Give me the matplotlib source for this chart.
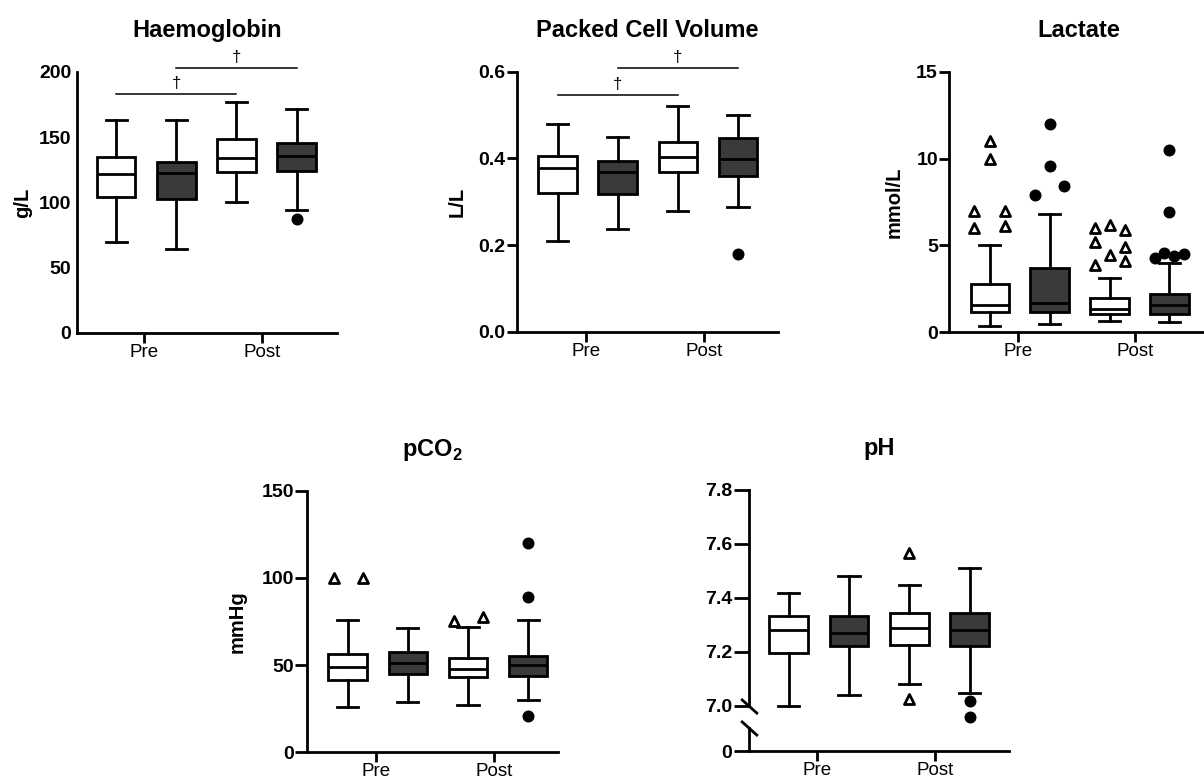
import matplotlib
matplotlib.use("Agg")
import matplotlib.pyplot as plt

plt.rcParams['font.family'] = ['Liberation Sans', 'DejaVu Sans']
plt.rcParams['mathtext.fontset'] = 'custom'
plt.rcParams['mathtext.rm'] = 'Liberation Sans'
plt.rcParams['mathtext.bf'] = 'Liberation Sans:bold'

W, H = 1204, 782

groups = ['Pre', 'Post']
# box order: Pre (open), Pre (filled), Post (open), Post (filled)
# each box: whisker low, Q1, median, Q3, whisker high
hb_box = [(70, 104.5, 122, 134.5, 163), (64.5, 103, 122.5, 131, 163),
          (100.5, 123, 134, 148.5, 177), (94.5, 124.5, 136, 145.5, 171.5)]
hb_out = [[], [], [], [87]]

pcv_box = [(0.21, 0.32, 0.378, 0.406, 0.48), (0.238, 0.318, 0.368, 0.395, 0.45),
           (0.278, 0.368, 0.403, 0.437, 0.52), (0.288, 0.36, 0.398, 0.446, 0.50)]
pcv_out = [[], [], [], [0.18]]

lac_box = [(0.38, 1.15, 1.6, 2.8, 5.0), (0.5, 1.15, 1.67, 3.72, 6.8),
           (0.65, 1.05, 1.35, 2.0, 3.1), (0.58, 1.04, 1.6, 2.2, 4.0)]
lac_out = [[11.0, 10.0, 7.0, 6.0, 7.0, 6.1],
           [12.0, 9.6, 7.9, 8.4],
           [6.0, 6.2, 5.9, 5.2, 4.9, 4.45, 3.9, 4.1],
           [10.5, 6.9, 4.3, 4.55, 4.4, 4.5]]

co2_box = [(26, 41.5, 49, 56.5, 76), (29, 44.7, 51, 57.3, 71),
           (27, 43.4, 47.6, 54.3, 72), (30, 44, 50, 55.4, 76)]
co2_out = [[100, 100], [], [75.5, 77.4], [120, 89, 21]]

ph_box = [(7.0, 7.195, 7.28, 7.335, 7.42), (7.04, 7.222, 7.27, 7.335, 7.48),
          (7.08, 7.225, 7.29, 7.345, 7.45), (7.05, 7.222, 7.28, 7.345, 7.51)]
ph_out = [[], [], [7.565, 7.025], [7.02, 6.96]]

# horizontal spread of outlier symbols (box units)
lac_dx = [[0, 0, -0.26, -0.26, 0.26, 0.26],
          [0, 0, -0.24, 0.24],
          [-0.25, 0, 0.25, -0.25, 0.25, 0, -0.25, 0.25],
          [0, 0, -0.24, -0.09, 0.075, 0.24]]
co2_dx = [[-0.23, 0.25], [], [-0.23, 0.25], [0, 0, 0]]

pos = [0, 1, 2, 3]
tick_pos = [0.47, 2.43]
fills = ['white', '#3a3a3a']
LW = 2


def px_axes(fig, left, bottom, width, height):
    return fig.add_axes([left / W, 1 - bottom / H, width / W, height / H])


def style(ax, xlim, ylen=7, ypad=1.2):
    for s in ['top', 'right']:
        ax.spines[s].set_visible(False)
    for s in ['left', 'bottom']:
        ax.spines[s].set_linewidth(LW)
    ax.set_xlim(*xlim)
    ax.set_xticks(tick_pos, groups)
    ax.tick_params(axis='x', length=7, width=LW, pad=1, labelsize=13.5)
    ax.tick_params(axis='y', length=ylen, width=LW, pad=ypad, labelsize=14)
    for t in ax.get_yticklabels():
        t.set_fontweight('bold')


def draw_boxes(ax, stats, outliers, dx=None):
    bx = [dict(whislo=s[0], q1=s[1], med=s[2], q3=s[3], whishi=s[4], fliers=[])
          for s in stats]
    art = ax.bxp(bx, positions=pos, widths=0.64, capwidths=0.35,
                 patch_artist=True, showfliers=False, manage_ticks=False,
                 boxprops=dict(linewidth=LW, edgecolor='black'),
                 medianprops=dict(color='black', linewidth=LW),
                 whiskerprops=dict(linewidth=LW),
                 capprops=dict(linewidth=LW))
    for i, b in enumerate(art['boxes']):
        b.set_facecolor(fills[i % 2])
    for k in art:
        for a in art[k]:
            a.set_clip_on(False)
    for i, vals in enumerate(outliers):
        if not vals:
            continue
        off = dx[i] if dx is not None else [0] * len(vals)
        xs = [pos[i] + o for o in off]
        if i % 2 == 0:
            ax.scatter(xs, vals, marker='^', s=52, facecolor='white',
                       edgecolor='black', linewidth=2, zorder=3, clip_on=False)
        else:
            ax.scatter(xs, vals, marker='o', s=58, color='black', zorder=3,
                       clip_on=False)


def sig_bars(ax, pairs, heights):
    for (a, b), y in zip(pairs, heights):
        ax.plot([pos[a], pos[b]], [y, y], color='black', lw=1.1, clip_on=False)
        ax.annotate('\u2020', ((pos[a] + pos[b]) / 2, y), xytext=(0, 7.5),
                    textcoords='offset points', ha='center', va='center',
                    fontsize=12, annotation_clip=False)


def title(ax, text):
    ax.set_title(text, fontsize=17, fontweight='bold', pad=25)


fig = plt.figure(figsize=(W / 100, H / 100), dpi=100)

# Haemoglobin
ax1 = px_axes(fig, 77, 333, 260, 261)
draw_boxes(ax1, hb_box, hb_out)
ax1.set_ylim(0, 200)
ax1.set_yticks([0, 50, 100, 150, 200])
style(ax1, (-0.65, 3.67), ylen=0, ypad=4)
sig_bars(ax1, [(0, 2), (1, 3)], [183, 203])
ax1.set_ylabel('g/L', fontsize=14.5, fontweight='bold')
ax1.yaxis.set_label_coords(-0.174, 0.5)
title(ax1, 'Haemoglobin')

# Packed cell volume
ax2 = px_axes(fig, 516.7, 331.7, 261.6, 260)
draw_boxes(ax2, pcv_box, pcv_out)
ax2.set_ylim(0, 0.6)
ax2.set_yticks([0.0, 0.2, 0.4, 0.6], ['0.0', '0.2', '0.4', '0.6'])
style(ax2, (-0.68, 3.67), ylen=7, ypad=1.5)
sig_bars(ax2, [(0, 2), (1, 3)], [0.546, 0.608])
ax2.set_ylabel('L/L', fontsize=14.5, fontweight='bold')
ax2.yaxis.set_label_coords(-0.19, 0.5)
title(ax2, 'Packed Cell Volume')

# Lactate
ax3 = px_axes(fig, 949, 332.3, 260, 260.6)
draw_boxes(ax3, lac_box, lac_out, lac_dx)
ax3.set_ylim(0, 15)
ax3.set_yticks([0, 5, 10, 15])
style(ax3, (-0.68, 3.66), ylen=7, ypad=1)
ax3.set_ylabel('mmol/L', fontsize=14.5, fontweight='bold')
ax3.yaxis.set_label_coords(-0.173, 0.5)
title(ax3, 'Lactate')

# pCO2
ax4 = px_axes(fig, 307.3, 752.3, 251, 261.6)
draw_boxes(ax4, co2_box, co2_out, co2_dx)
ax4.set_ylim(0, 150)
ax4.set_yticks([0, 50, 100, 150])
style(ax4, (-0.67, 3.5), ylen=8.5, ypad=1)
ax4.set_ylabel('mmHg', fontsize=14.5, fontweight='bold')
ax4.yaxis.set_label_coords(-0.241, 0.5)
title(ax4, r'$\mathbf{pCO}_{\mathbf{2}}$')

# pH, with a broken y axis between 0 and 7.0
ax5 = px_axes(fig, 749, 706, 260.3, 216)
ax5b = px_axes(fig, 749, 751, 260.3, 23)
draw_boxes(ax5, ph_box, ph_out)
ax5.set_ylim(7.0, 7.8)
ax5.set_yticks([7.0, 7.2, 7.4, 7.6, 7.8], ['7.0', '7.2', '7.4', '7.6', '7.8'])
style(ax5, (-0.66, 3.66), ylen=10.5, ypad=1.5)
ax5.spines['bottom'].set_visible(False)
ax5.tick_params(axis='x', bottom=False, labelbottom=False)
ax5b.set_ylim(0, 1)
ax5b.set_yticks([0])
style(ax5b, (-0.66, 3.66), ylen=10.5, ypad=1.5)
title(ax5, 'pH')

# break marks on the pH axis
brk = dict(marker=[(-1, 0.9), (1, -0.9)], markersize=12, linestyle='none',
           color='black', mec='black', mew=LW, clip_on=False)
ax5.plot([0], [0], transform=ax5.transAxes, **brk)
ax5b.plot([0], [1], transform=ax5b.transAxes, **brk)

fig.savefig('out.png', dpi=100)
